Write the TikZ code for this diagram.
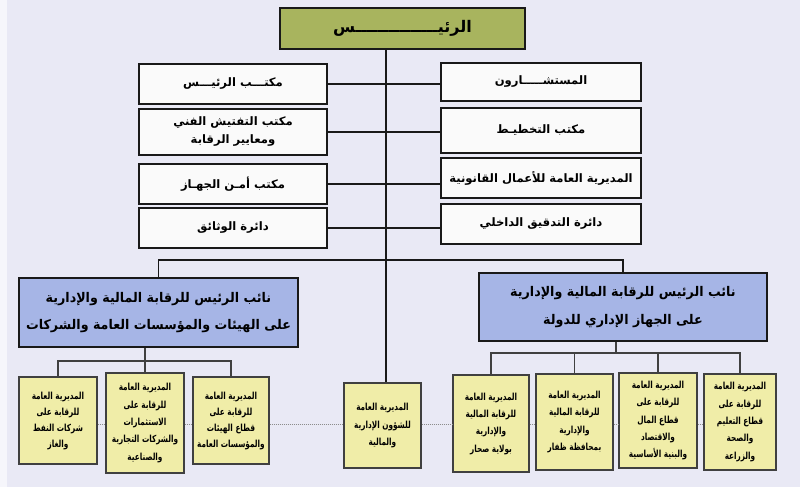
\documentclass[tikz,border=0pt]{standalone}
\usepackage{fontspec}
\newfontfamily\arabicfont[Script=Arabic]{DejaVu Sans}
\newfontfamily\arabicvp[Script=Arabic,FakeStretch=0.95]{DejaVu Sans}
\newfontfamily\arabiccond[Script=Arabic,FakeStretch=0.75]{DejaVu Sans}
\TeXXeTstate=1
\newcommand\arl[1]{\beginR #1\endR}
\definecolor{bgcol}{RGB}{233,233,245}
\definecolor{topfill}{RGB}{168,180,94}
\definecolor{midfill}{RGB}{250,250,250}
\definecolor{vpfill}{RGB}{166,181,230}
\definecolor{lowfill}{RGB}{240,237,168}
\definecolor{linecol}{RGB}{25,25,25}
\tikzset{
  base/.style={draw=linecol, line width=1.3pt, align=center, inner sep=0pt},
  topbox/.style={base, fill=topfill, font=\arabicfont\bfseries\fontsize{12}{14}\selectfont},
  midbox/.style={base, fill=midfill, font=\arabicfont\bfseries\fontsize{8.7}{13.5}\selectfont},
  vpbox/.style={base, line width=1.4pt, fill=vpfill, font=\arabicvp\bfseries\fontsize{10}{20.5}\selectfont},
  lowbox/.style={base, draw=black!75, line width=1pt, fill=lowfill, font=\arabiccond\bfseries\fontsize{7.3}{13}\selectfont},
  lowtight/.style={lowbox, font=\arabiccond\bfseries\fontsize{7.3}{12}\selectfont},
  conn/.style={draw=linecol, line width=1.4pt},
  lowconn/.style={draw=black!75, line width=1pt},
  thinlink/.style={draw=black!45, line width=0.5pt, densely dotted}
}
\begin{document}
\begin{tikzpicture}[x=0.75pt,y=-0.75pt]
\useasboundingbox (0,0) rectangle (800,487);
\fill[bgcol] (0,0) rectangle (800,487);
\fill[white!60!bgcol] (0,0) rectangle (7,487);

% top
\node[topbox, minimum width=183.75pt, minimum height=30.75pt] (top) at (402.5,28.5) {\arl{الرئيـــــــــــــــس}};

% middle left column
\node[midbox, minimum width=141pt, minimum height=30pt] (l1) at (233,84) {\arl{مكتـــب الرئيـــس}};
\node[midbox, minimum width=141pt, minimum height=34pt] (l2) at (233,132) {\arl{مكتب التفتيش الفني}\\\arl{ومعايير الرقابة}};
\node[midbox, minimum width=141pt, minimum height=30pt] (l3) at (233,184) {\arl{مكتب أمـن الجهـاز}};
\node[midbox, minimum width=141pt, minimum height=30pt] (l4) at (233,228) {\arl{دائرة الوثائق}};

% middle right column
\node[midbox, minimum width=150pt, minimum height=28.5pt] (r1) at (541,82) {\arl{المستشـــــارون}};
\node[midbox, minimum width=150pt, minimum height=33.75pt] (r2) at (541,130.5) {\arl{مكتب التخطيـط}};
\node[midbox, minimum width=150pt, minimum height=30pt] (r3) at (541,178) {\arl{المديرية العامة للأعمال القانونية}};
\node[midbox, minimum width=150pt, minimum height=30pt] (r4) at (541,224) {\arl{دائرة التدقيق الداخلي}};

% vice presidents
\node[vpbox, minimum width=209.25pt, minimum height=51.75pt] (vpl) at (158.5,312.5) {\arl{نائب الرئيس للرقابة المالية والإدارية}\\\arl{على الهيئات والمؤسسات العامة والشركات}};
\node[vpbox, minimum width=216pt, minimum height=51pt] (vpr) at (623,307) {\arl{نائب الرئيس للرقابة المالية والإدارية}\\\arl{على الجهاز الإداري للدولة}};

% lower boxes
\node[lowtight, minimum width=58.5pt, minimum height=65.25pt] (L1) at (58,420.5) {\arl{المديرية العامة}\\\arl{للرقابة على}\\\arl{شركات النفط}\\\arl{والغاز}};
\node[lowbox, minimum width=58.5pt, minimum height=75pt] (L2) at (145,423) {\arl{المديرية العامة}\\\arl{للرقابة على}\\\arl{الاستثمارات}\\\arl{والشركات التجارية}\\\arl{والصناعية}};
\node[lowtight, minimum width=57pt, minimum height=65.25pt] (L3) at (231,420.5) {\arl{المديرية العامة}\\\arl{للرقابة على}\\\arl{قطاع الهيئات}\\\arl{والمؤسسات العامة}};
\node[lowbox, minimum width=57.75pt, minimum height=63.75pt] (M) at (382.5,425.5) {\arl{المديرية العامة}\\\arl{للشؤون الإدارية}\\\arl{والمالية}};
\node[lowbox, minimum width=57pt, minimum height=72.75pt] (R1) at (491,423.5) {\arl{المديرية العامة}\\\arl{للرقابة المالية}\\\arl{والإدارية}\\\arl{بولاية صحار}};
\node[lowbox, minimum width=57.75pt, minimum height=72pt] (R2) at (574.5,422) {\arl{المديرية العامة}\\\arl{للرقابة المالية}\\\arl{والإدارية}\\\arl{بمحافظة ظفار}};
\node[lowbox, minimum width=58.5pt, minimum height=71.25pt] (R3) at (658,420.5) {\arl{المديرية العامة}\\\arl{للرقابة على}\\\arl{قطاع المال}\\\arl{والاقتصاد}\\\arl{والبنية الأساسية}};
\node[lowbox, minimum width=54pt, minimum height=72pt] (R4) at (740,422) {\arl{المديرية العامة}\\\arl{للرقابة على}\\\arl{قطاع التعليم}\\\arl{والصحة}\\\arl{والزراعة}};

% connectors
\coordinate (trk) at (386,0);
\coordinate (bar) at (386,260);
\coordinate (lbar) at (0,361);
\coordinate (rbar) at (0,353);
\coordinate (rdrop) at (616,0);
\coordinate (hl) at (0,424);

\draw[conn] (top.south -| trk) -- (M.north -| trk);
\foreach \i in {1,2,3,4} {
  \draw[conn] (l\i.east) -- (l\i.east -| r\i.west);
}
\draw[conn] (vpl.north) |- (bar) -| (vpr.north);

\draw[lowconn] (L1.north) |- (lbar -| L3.north) -- (L3.north);
\draw[lowconn] (vpl.south -| L2.north) -- (L2.north);

\draw[lowconn] (R1.north) |- (rbar -| R4.north) -- (R4.north);
\draw[lowconn] (R2.north) -- (R2.north |- rbar);
\draw[lowconn] (R3.north) -- (R3.north |- rbar);
\draw[lowconn] (vpr.south -| rdrop) -- (rbar -| rdrop);

\draw[thinlink] (L1.east |- hl) -- (L2.west |- hl);
\draw[thinlink] (L2.east |- hl) -- (L3.west |- hl);
\draw[thinlink] (L3.east |- hl) -- (M.west |- hl);
\draw[thinlink] (M.east |- hl) -- (R1.west |- hl);
\draw[thinlink] (R1.east |- hl) -- (R2.west |- hl);
\draw[thinlink] (R2.east |- hl) -- (R3.west |- hl);
\draw[thinlink] (R3.east |- hl) -- (R4.west |- hl);
\end{tikzpicture}
\end{document}
